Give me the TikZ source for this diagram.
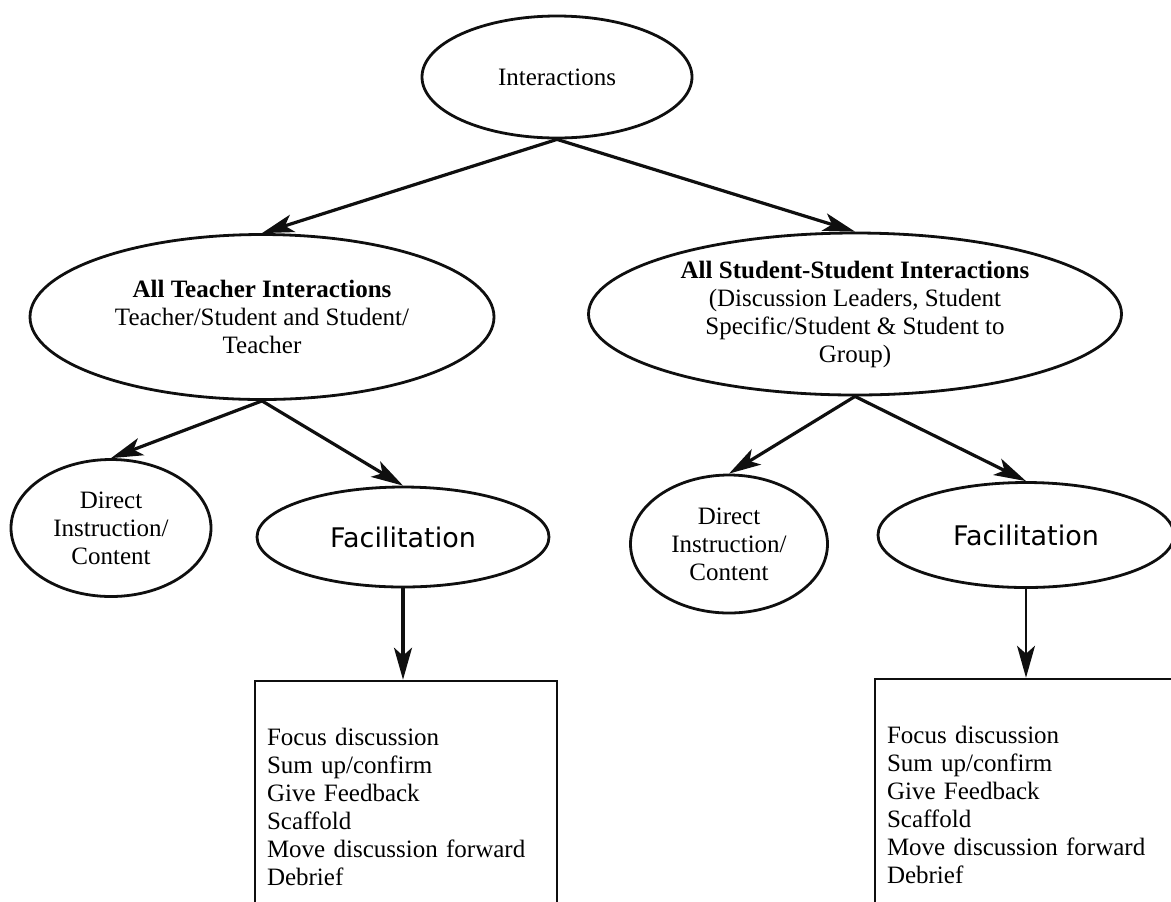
\documentclass[tikz,border=0pt]{standalone}
\usepackage{fontspec}
\setmainfont{Liberation Serif}
\newfontfamily\facfont{DejaVu Sans}
\usepackage{tikz}
\usetikzlibrary{arrows.meta, shapes.geometric, positioning}
\definecolor{inkgray}{RGB}{15, 15, 15}
\newcommand{\tasklist}{Focus discussion\\Sum up/confirm\\Give Feedback\\Scaffold\\Move discussion forward\\Debrief}
\tikzset{
	bubble/.style={draw=inkgray, ellipse, line width=1.4pt, inner sep=0pt, align=center,
		font=\fontsize{12.5}{14}\selectfont},
	facbubble/.style={bubble, font=\facfont\fontsize{13.5}{15}\selectfont},
	listbox/.style={draw=inkgray, rectangle, line width=1.3pt, minimum width=151pt,
		minimum height=126pt, inner xsep=6pt, text width=139pt, align=left,
		font=\fontsize{12.5}{14}\selectfont},
	linkarrow/.style={inkgray, line width=1.6pt, -{Stealth[length=16pt, width=9pt, inset=4pt]}},
	thinarrow/.style={linkarrow, line width=0.8pt}
}

\begin{document}
\begin{tikzpicture}[x=0.5pt, y=-0.5pt]
	\useasboundingbox (0,0) rectangle (1171,901);
	\clip (0,0) rectangle (1171,901);
	% top
	\node[bubble, minimum width=135pt, minimum height=61pt] (inter) at (557,77) {Interactions};
	% teacher side
	\node[bubble, minimum width=232pt, minimum height=82.5pt] (teacher) at (262,317)
		{\textbf{All Teacher Interactions}\\Teacher/Student and Student/\\Teacher};
	\node[bubble, minimum width=100pt, minimum height=68.5pt] (directL) at (111,528) {Direct\\Instruction/\\Content};
	\node[facbubble, minimum width=146pt, minimum height=50pt] (facL) at (403,537) {Facilitation};
	\node[listbox] (boxL) at (406,807) {\tasklist};
	% student side
	\node[bubble, minimum width=266.5pt, minimum height=81pt] (student) at (855,314)
		{\textbf{All Student-Student Interactions}\\(Discussion Leaders, Student\\Specific/Student \& Student to\\Group)};
	\node[bubble, minimum width=98.5pt, minimum height=69pt] (directR) at (729,544) {Direct\\Instruction/\\Content};
	\node[facbubble, minimum width=148pt, minimum height=52.5pt] (facR) at (1026,535) {Facilitation};
	\node[listbox] (boxR) at (1026,805) {\tasklist};
	% connectors
	\draw[linkarrow] (inter.south) -- (teacher.north);
	\draw[linkarrow] (inter.south) -- (student.north);
	\draw[linkarrow] (teacher.south) -- (directL.north);
	\draw[linkarrow] (teacher.south) -- (facL.north);
	\draw[linkarrow] (student.south) -- (directR.north);
	\draw[linkarrow] (student.south) -- (facR.north);
	\draw[linkarrow] (facL.south) -- (facL.south |- boxL.north);
	\draw[thinarrow] (facR.south) -- (facR.south |- boxR.north);
\end{tikzpicture}
\end{document}
